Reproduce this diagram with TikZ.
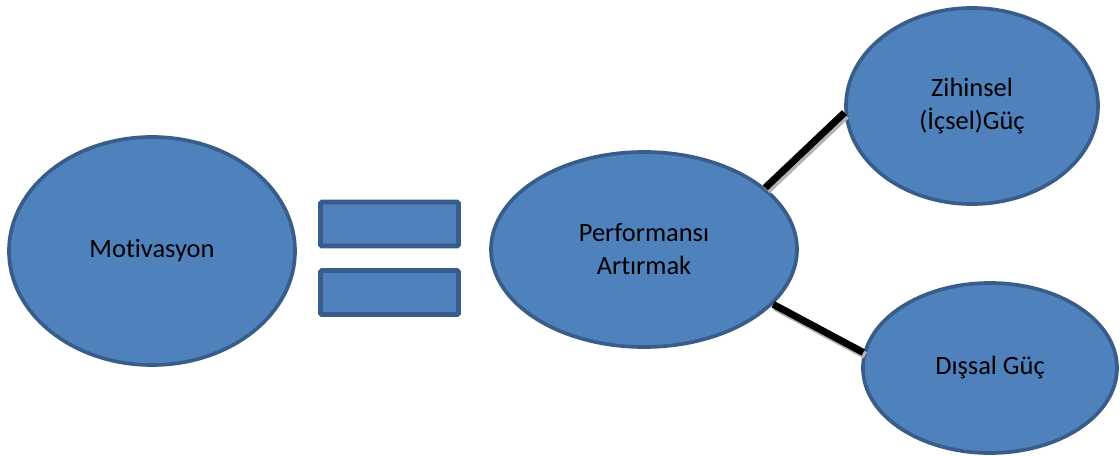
\documentclass[tikz,border=0pt]{standalone}
\usepackage{fontspec}
\setmainfont{Carlito}[Ligatures={NoCommon}]
\usepackage{xcolor}
\usetikzlibrary{shapes.geometric}
\definecolor{balloon}{HTML}{4F81BD}
\definecolor{balloonrim}{HTML}{385D8A}

\begin{document}
\begin{tikzpicture}[x=0.025cm, y=-0.025cm,
		every node/.style={font=\fontsize{18.8}{23.5}\selectfont, align=center},
		bubble/.style={ellipse, draw=balloonrim, fill=balloon, line width=2.6pt, inner sep=0pt},
		bar/.style={rectangle, draw=balloonrim, fill=balloon, line width=3.4pt, rounded corners=1pt, minimum width=3.45cm, minimum height=1.1cm, inner sep=0pt},
		link/.style={line width=5pt, black},
		linkshade/.style={line width=5pt, black!30}]
		\useasboundingbox (0, 0) rectangle (1120, 455);
		\node[bubble, minimum width=7.15cm, minimum height=5.7cm] (motiv) at (152, 251) {Motivasyon};
		\node[bar] (eqtop) at (389.5, 224) {};
		\node[bar] (eqbot) at (389.5, 292.5) {};
		\node[bubble, minimum width=7.65cm, minimum height=4.875cm] (perf) at (644, 249.5) {Performansı\\Artırmak};
		\node[bubble, minimum width=6.3cm, minimum height=4.9cm] (zihin) at (972, 106) {Zihinsel\\(İçsel)Güç};
		\node[bubble, minimum width=6.35cm, minimum height=4.25cm] (dis) at (990, 368) {Dışsal Güç};
		\draw[linkshade] ([shift={(2, 3)}]perf.27.5) -- ([shift={(2, 3)}]zihin.183.7);
		\draw[linkshade] ([shift={(2, 3)}]perf.-23.8) -- ([shift={(2, 3)}]dis.173.6);
		\draw[link] (perf.27.5) -- (zihin.183.7);
		\draw[link] (perf.-23.8) -- (dis.173.6);
	\end{tikzpicture}
\end{document}
